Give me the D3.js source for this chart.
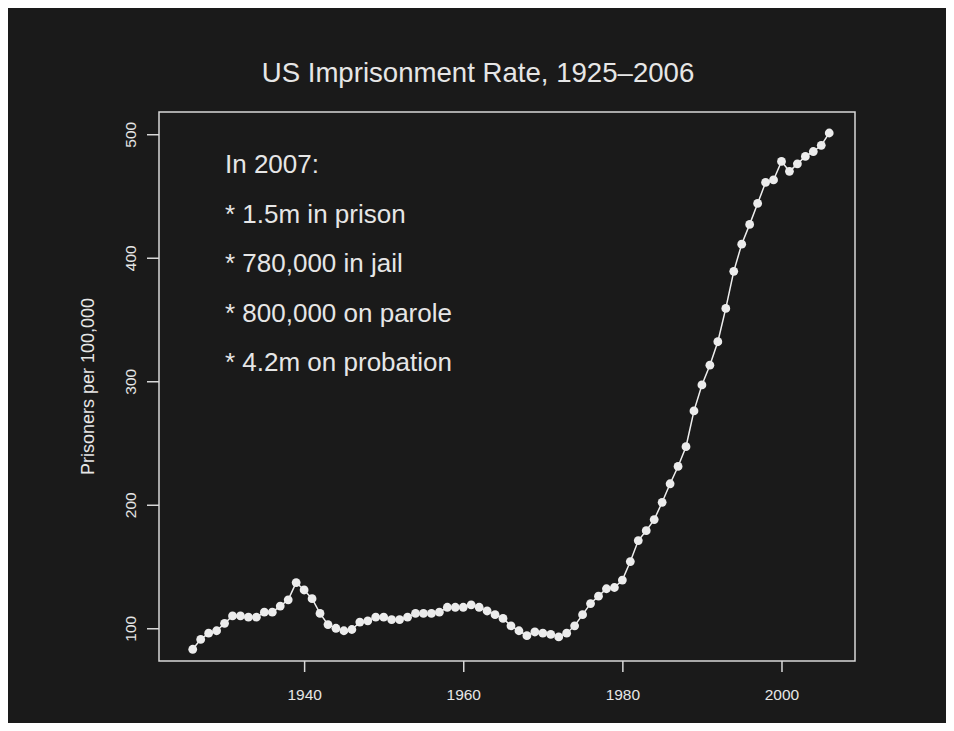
<!DOCTYPE html>
<html>
<head>
<meta charset="utf-8">
<script src="https://cdn.jsdelivr.net/npm/d3@7"></script>
<style>
  body { margin: 0; background: #ffffff; }
  text { font-family: "Liberation Sans", Arial, sans-serif; fill: #e6e6e6; }
</style>
</head>
<body>
<div id="chart"></div>
<script>
// Imprisonment rate per 100,000 (state + federal)
const years = [
  1926, 1927, 1928, 1929, 1930, 1931, 1932, 1933, 1934, 1935,
  1936, 1937, 1938, 1939, 1940, 1941, 1942, 1943, 1944, 1945,
  1946, 1947, 1948, 1949, 1950, 1951, 1952, 1953, 1954, 1955,
  1956, 1957, 1958, 1959, 1960, 1961, 1962, 1963, 1964, 1965,
  1966, 1967, 1968, 1969, 1970, 1971, 1972, 1973, 1974, 1975,
  1976, 1977, 1978, 1979, 1980, 1981, 1982, 1983, 1984, 1985,
  1986, 1987, 1988, 1989, 1990, 1991, 1992, 1993, 1994, 1995,
  1996, 1997, 1998, 1999, 2000, 2001, 2002, 2003, 2004, 2005, 2006
];
const rates = [
  83, 91, 96, 98, 104, 110, 110, 109, 109, 113,
  113, 118, 123, 137, 131, 124, 112, 103, 100, 98,
  99, 105, 106, 109, 109, 107, 107, 109, 112, 112,
  112, 113, 117, 117, 117, 119, 117, 114, 111, 108,
  102, 98, 94, 97, 96, 95, 93, 96, 102, 111,
  120, 126, 132, 133, 139, 154, 171, 179, 188, 202,
  217, 231, 247, 276, 297, 313, 332, 359, 389, 411,
  427, 444, 461, 463, 478, 470, 476, 482, 486, 491, 501
];
const xTicks = [1940, 1960, 1980, 2000];
const yTicks = [100, 200, 300, 400, 500];
const notes = [
  "In 2007:",
  "* 1.5m in prison",
  "* 780,000 in jail",
  "* 800,000 on parole",
  "* 4.2m on probation"
];

const width = 954;
const height = 731;
const box = { left: 159, right: 855, top: 112, bottom: 661 };

const svg = d3.select("#chart")
  .append("svg")
  .attr("width", width)
  .attr("height", height);

// dark panel inside a thin white margin
svg.append("rect")
  .attr("x", 8).attr("y", 8)
  .attr("width", width - 16).attr("height", height - 16)
  .attr("fill", "#1a1a1a");

const x = d3.scaleLinear().domain([1921.76, 2009.24]).range([box.left, box.right]);
const y = d3.scaleLinear().domain([73.5, 518]).range([box.bottom, box.top]);

const data = years.map((yr, i) => ({ year: yr, rate: rates[i] }));

// Title
svg.append("text")
  .attr("x", 478)
  .attr("y", 82)
  .attr("text-anchor", "middle")
  .style("font-size", "27.6px")
  .text("US Imprisonment Rate, 1925\u20132006");

// Axes
const xAxis = svg.append("g")
  .attr("transform", `translate(0, ${box.bottom})`)
  .call(d3.axisBottom(x).tickValues(xTicks).tickFormat(d3.format("d")).tickSize(11).tickPadding(17));

const yAxis = svg.append("g")
  .attr("transform", `translate(${box.left}, 0)`)
  .call(d3.axisLeft(y).tickValues(yTicks).tickSize(12));

[xAxis, yAxis].forEach(g => {
  g.select(".domain").remove();
  g.selectAll("line").attr("stroke", "#d8d8d8").attr("stroke-width", 1.5);
  g.selectAll("text").style("font-size", "15.5px").attr("fill", "#e0e0e0");
});

yAxis.selectAll("text")
  .attr("x", 0)
  .attr("dy", 0)
  .attr("text-anchor", "middle")
  .attr("transform", "translate(-23, 0) rotate(-90)");

// Y axis title
svg.append("text")
  .attr("transform", `translate(94, ${(box.top + box.bottom) / 2}) rotate(-90)`)
  .attr("text-anchor", "middle")
  .style("font-size", "18px")
  .text("Prisoners per 100,000");

// Plot box
svg.append("rect")
  .attr("x", box.left).attr("y", box.top)
  .attr("width", box.right - box.left).attr("height", box.bottom - box.top)
  .attr("fill", "none")
  .attr("stroke", "#d8d8d8")
  .attr("stroke-width", 1.5);

// Line + points
const line = d3.line().x(d => x(d.year)).y(d => y(d.rate));

svg.append("path")
  .datum(data)
  .attr("d", line)
  .attr("fill", "none")
  .attr("stroke", "#eeeeee")
  .attr("stroke-width", 1.5);

svg.selectAll("circle.pt")
  .data(data)
  .enter()
  .append("circle")
  .attr("class", "pt")
  .attr("cx", d => x(d.year))
  .attr("cy", d => y(d.rate))
  .attr("r", 4.4)
  .attr("fill", "#ececec");

// Annotation block
svg.append("g")
  .selectAll("text")
  .data(notes)
  .enter()
  .append("text")
  .attr("x", 225)
  .attr("y", (d, i) => 173 + i * 49.6)
  .style("font-size", "26px")
  .text(d => d);
</script>
</body>
</html>
